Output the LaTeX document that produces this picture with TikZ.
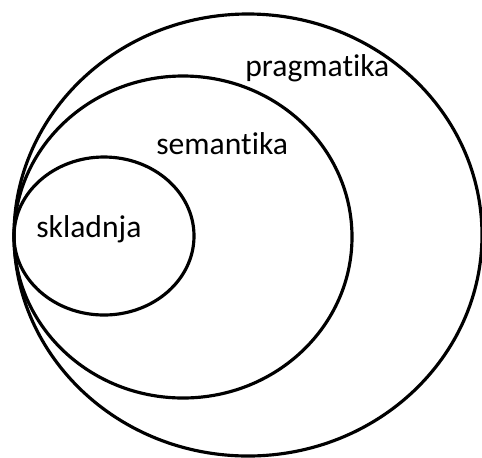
\documentclass[tikz,border=0pt]{standalone}
\usepackage{fontspec}
\setmainfont{Carlito}[Ligatures=NoCommon]
\usepackage{tikz}

\begin{document}
\begin{tikzpicture}[x=0.02cm,y=-0.02cm,
		ring/.style={line width=1.8pt},
		label/.style={anchor=base west,inner sep=0pt,font=\fontsize{18}{18}\selectfont}]
		
		% frame of the picture
		\useasboundingbox (0,0) rectangle (482,457);
		
		% outer ring
		\draw[ring] (248,235) ellipse (234 and 221);
		\node[label] (prag) at (245,76) {pragmatika};
		
		% middle ring
		\draw[ring] (183,237) ellipse (169 and 161);
		\node[label] (sem) at (156,154) {semantika};
		
		% inner ring
		\draw[ring] (104,236) ellipse (90 and 79);
		\node[label] (skl) at (36,237) {skladnja};
		
	\end{tikzpicture}
\end{document}
